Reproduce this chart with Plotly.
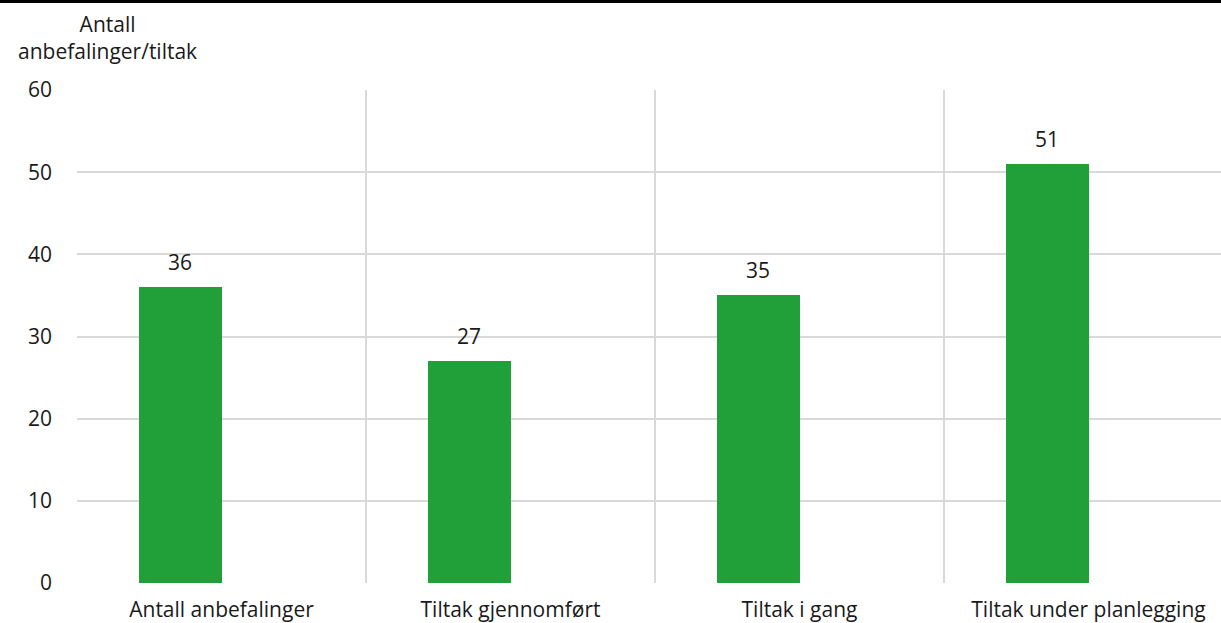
import plotly.graph_objects as go

categories = ["Antall anbefalinger", "Tiltak gjennomført", "Tiltak i gang", "Tiltak under planlegging"]
values = [36, 27, 35, 51]
y_ticks = [0, 10, 20, 30, 40, 50, 60]
y_title = "Antall<br>anbefalinger/tiltak"

BAR_COLOR = "#21A03A"
GRID = "#d9d9d9"
TXT = "#1a1a1a"
FONT = "Open Sans"
FS = 21

W, H = 1221, 623
ML, MT, MB = 77, 90, 40
plot_w = W - ML
cat_px = 289.0
x_right = -0.5 + plot_w / cat_px
bar_w = 83.0 / cat_px

xs = list(range(len(categories)))

fig = go.Figure()
fig.add_trace(go.Bar(
    x=xs, y=values, width=bar_w, offset=-bar_w,
    marker=dict(color=BAR_COLOR, line=dict(width=0)),
    hoverinfo="skip", showlegend=False,
))

for xi, v in zip(xs, values):
    fig.add_annotation(x=xi - bar_w / 2, y=v, text=str(v), showarrow=False,
                       yanchor="bottom", yshift=9,
                       font=dict(family=FONT, size=FS, color=TXT))

fig.add_annotation(xref="paper", yref="paper", x=0, xshift=30, y=1, yshift=23,
                   text=y_title, showarrow=False, xanchor="center", yanchor="bottom",
                   align="center", font=dict(family=FONT, size=FS, color=TXT))

plot_h = H - MT - MB
fig.add_shape(type="line", xref="paper", yref="paper",
              x0=-0.2, x1=1.1, y0=(H - MB - 1.5) / plot_h, y1=(H - MB - 1.5) / plot_h,
              line=dict(color="black", width=3))

fig.update_layout(
    width=W, height=H,
    margin=dict(l=ML, r=0, t=MT, b=MB, pad=0, autoexpand=False),
    paper_bgcolor="white", plot_bgcolor="white",
    font=dict(family=FONT, size=FS, color=TXT),
    bargap=0,
    xaxis=dict(
        range=[-0.5, x_right], automargin=False,
        tickmode="array", tickvals=xs, ticktext=categories,
        showgrid=False, zeroline=False, showline=False, ticks="",
        ticklabelstandoff=12,
        minor=dict(tickmode="array", tickvals=[-0.5, 0.5, 1.5, 2.5, 3.5],
                   showgrid=True, gridcolor=GRID, gridwidth=2, ticks=""),
        tickfont=dict(family=FONT, size=FS, color=TXT),
    ),
    yaxis=dict(
        range=[0, 60], tickmode="array", tickvals=y_ticks, automargin=False,
        showgrid=True, gridcolor=GRID, gridwidth=2,
        zeroline=False, showline=False, ticks="",
        ticklabelstandoff=24,
        tickfont=dict(family=FONT, size=FS, color=TXT),
    ),
)

fig.write_html("out.html", config={"displayModeBar": False},
               post_script="document.body.style.margin='0';document.body.style.overflow='hidden';")
